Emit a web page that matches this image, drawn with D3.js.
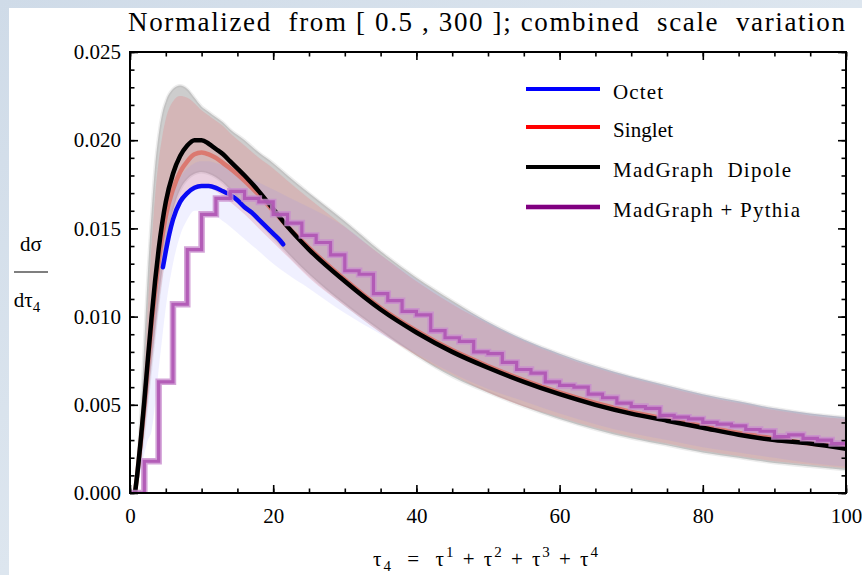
<!DOCTYPE html>
<html><head><meta charset="utf-8">
<script src="https://cdn.jsdelivr.net/npm/d3@7"></script>
<style>html,body{margin:0;padding:0;background:#d6e0ea;} svg{display:block;}</style>
</head><body><svg id="chart" width="862" height="575"></svg>
<script>
// ---------- data ----------
const gridX = [0.7,1,1.5,2,2.5,3,3.5,4,4.5,5,6,7,8,9,10,11,12,13,14,16,18,20,22,25,30,35,40,45,50,55,60,65,70,75,80,85,90,95,100];
const dipole = [0,0.0010,0.0030,0.0052,0.0076,0.0099,0.0120,0.0138,0.0153,0.0165,0.0181,0.0191,0.0197,0.0200,0.0200,0.0198,0.0195,0.0192,0.0188,0.0180,0.0171,0.0161,0.0151,0.0138,0.0120,0.0104,0.0091,0.0080,0.0071,0.0063,0.0056,0.0050,0.0045,0.0041,0.0037,0.0033,0.0030,0.0028,0.0025];
const singlet = [0,0.0010,0.0029,0.0050,0.0073,0.0095,0.0114,0.0131,0.0145,0.0157,0.0172,0.0182,0.0188,0.0192,0.0193,0.0192,0.0190,0.0187,0.0184,0.0177,0.0169,0.0160,0.0151,0.0139,0.0121,0.0105,0.0092,0.0081,0.0072,0.0064,0.0057,0.0051,0.0046,0.0042,0.0038,0.0034,0.0031,0.0028,0.0026];
const octetX = [4.6,5,5.5,6,7,8,9,10,11,12,13,14,15,16,17,18,19,20,21,21.4];
const octet = [0.0128,0.0137,0.0147,0.0155,0.0165,0.0170,0.0173,0.0174,0.0174,0.0173,0.0171,0.0169,0.0166,0.0162,0.0159,0.0155,0.0151,0.0147,0.0143,0.0141];

const dipoleHi = [0,0.0015,0.0045,0.0085,0.0125,0.0158,0.0185,0.0203,0.0215,0.0222,0.0229,0.0231,0.0229,0.0224,0.0219,0.0216,0.0213,0.0210,0.0206,0.0200,0.0193,0.0187,0.0180,0.0170,0.0154,0.0137,0.0122,0.0109,0.0097,0.0087,0.0079,0.0072,0.0066,0.0061,0.0056,0.0052,0.0048,0.0045,0.0043];
const dipoleLo = [0,0.0007,0.0020,0.0036,0.0055,0.0074,0.0092,0.0110,0.0126,0.0140,0.0160,0.0172,0.0178,0.0181,0.0182,0.0181,0.0179,0.0176,0.0172,0.0163,0.0154,0.0145,0.0136,0.0124,0.0107,0.0092,0.0078,0.0066,0.0057,0.0049,0.0042,0.0036,0.0031,0.0027,0.0023,0.0020,0.0017,0.0015,0.0013];
const singletHi = [0,0.0012,0.0035,0.0068,0.0106,0.0140,0.0168,0.0188,0.0202,0.0212,0.0222,0.0225,0.0224,0.0221,0.0217,0.0214,0.0211,0.0208,0.0204,0.0197,0.0190,0.0184,0.0177,0.0167,0.0151,0.0135,0.0120,0.0107,0.0096,0.0086,0.0078,0.0071,0.0065,0.0060,0.0055,0.0051,0.0047,0.0044,0.0042];
const singletLo = [0,0.0006,0.0018,0.0034,0.0052,0.0071,0.0089,0.0106,0.0121,0.0134,0.0152,0.0163,0.0170,0.0173,0.0174,0.0173,0.0171,0.0168,0.0165,0.0158,0.0150,0.0142,0.0134,0.0122,0.0106,0.0091,0.0078,0.0067,0.0057,0.0049,0.0043,0.0037,0.0032,0.0028,0.0024,0.0021,0.0018,0.0016,0.0014];
const octetHi = [0,0.0008,0.0025,0.0045,0.0068,0.0090,0.0110,0.0128,0.0143,0.0155,0.0170,0.0179,0.0184,0.0187,0.0188,0.0188,0.0187,0.0186,0.0184,0.0180,0.0176,0.0172,0.0168,0.0162,0.0151,0.0135,0.0121,0.0108,0.0097,0.0087,0.0079,0.0072,0.0066,0.0061,0.0056,0.0052,0.0048,0.0045,0.0043];
const octetLo = [0,0.0004,0.0012,0.0022,0.0030,0.0035,0.0050,0.0070,0.0088,0.0105,0.0130,0.0146,0.0155,0.0160,0.0160,0.0159,0.0157,0.0154,0.0151,0.0144,0.0137,0.0130,0.0124,0.0116,0.0102,0.0090,0.0079,0.0068,0.0059,0.0052,0.0045,0.0039,0.0034,0.0030,0.0026,0.0023,0.0020,0.0017,0.0015];

const histEdges = d3.range(0, 101, 2);
const pythia = [0,0.0018,0.0063,0.0107,0.0138,0.0158,0.0167,0.0171,0.0167,0.0165,0.0158,0.0153,0.0146,0.0142,0.0135,0.0126,0.0124,0.0113,0.0109,0.0103,0.0101,0.0092,0.0088,0.0086,0.0080,0.0079,0.0074,0.0070,0.0068,0.0063,0.0061,0.0060,0.0056,0.0054,0.0051,0.0049,0.0048,0.0044,0.0043,0.0042,0.0040,0.0039,0.0038,0.0036,0.0035,0.0032,0.0033,0.0031,0.0030,0.0028];

const xMajor = [0,20,40,60,80,100];
const xMinor = d3.range(0, 101, 5);
const yMajor = [0,0.005,0.010,0.015,0.020,0.025];
const yMinor = d3.range(0, 0.02501, 0.001);

const legendLabels = ["Octet","Singlet","MadGraph  Dipole","MadGraph + Pythia"];
const legendColors = ["#0000ff","#ff0000","#000000","#800080"];
const legendWidths = [50,60,178,187];

const titleText = "Normalized  from [ 0.5 , 300 ]; combined  scale  variation";

// ---------- drawing ----------
const W = 862, H = 575;
const FONT = "'Liberation Serif','Times New Roman',serif";
const svg = d3.select('#chart');
const defs = svg.append('defs');
const grad = defs.append('linearGradient').attr('id','bg').attr('x1',0).attr('y1',0).attr('x2',1).attr('y2',1);
grad.append('stop').attr('offset','0%').attr('stop-color','#cfdbe8');
grad.append('stop').attr('offset','50%').attr('stop-color','#dde6ef');
grad.append('stop').attr('offset','100%').attr('stop-color','#cad7e5');
svg.append('rect').attr('width',W).attr('height',H).attr('fill','url(#bg)');
svg.append('rect').attr('x',9).attr('y',8).attr('width',W-9).attr('height',H-8).attr('fill','#ffffff');

const x = d3.scaleLinear().domain([0,100]).range([130,846]);
const y = d3.scaleLinear().domain([0,0.025]).range([493,52]);

defs.append('clipPath').attr('id','plotclip').append('rect')
  .attr('x',130).attr('y',52).attr('width',716).attr('height',441);

const plot = svg.append('g').attr('clip-path','url(#plotclip)');

function band(lo, hi){
  return d3.area().x((d,i)=>x(gridX[i])).y0((d,i)=>y(lo[i])).y1((d,i)=>y(hi[i])).curve(d3.curveMonotoneX)(gridX);
}
plot.append('path').attr('d', band(dipoleLo, dipoleHi)).attr('fill','rgb(135,135,135)').attr('fill-opacity',0.42)
  .attr('stroke','rgb(135,135,135)').attr('stroke-opacity',0.15).attr('stroke-width',3);
plot.append('path').attr('d', band(singletLo, singletHi)).attr('fill','rgb(230,115,120)').attr('fill-opacity',0.26);
plot.append('path').attr('d', band(octetLo, octetHi)).attr('fill','rgb(130,130,255)').attr('fill-opacity',0.12);

const lineGen = (xs, ys) => d3.line().x((d,i)=>x(xs[i])).y((d,i)=>y(ys[i])).curve(d3.curveMonotoneX)(xs);

plot.append('path').attr('d', lineGen(gridX, singlet)).attr('fill','none')
  .attr('stroke','rgb(220,110,100)').attr('stroke-width',4.5).attr('stroke-opacity',0.85);
plot.append('path').attr('d', lineGen(gridX, dipole)).attr('fill','none')
  .attr('stroke','#000').attr('stroke-width',4.5);
plot.append('path').attr('d', lineGen(octetX, octet)).attr('fill','none')
  .attr('stroke','#0a0af5').attr('stroke-width',4.5).attr('stroke-linecap','round');

// histogram
const histPts = histEdges.map((e,i)=>[e, i < pythia.length ? pythia[i] : pythia[pythia.length-1]]);
const stepGen = d3.line().x(d=>x(d[0])).y(d=>y(d[1])).curve(d3.curveStepAfter);
plot.append('path').attr('d', stepGen(histPts)).attr('fill','none')
  .attr('stroke','rgb(200,140,205)').attr('stroke-width',6.5).attr('stroke-opacity',0.8);
plot.append('path').attr('d', stepGen(histPts)).attr('fill','none')
  .attr('stroke','rgb(175,85,180)').attr('stroke-width',3.2).attr('stroke-opacity',0.9);

// axes
function styleAxis(g){
  g.select('.domain').remove();
  g.selectAll('line').attr('stroke','#000').attr('stroke-width',1.6);
  g.selectAll('text').attr('font-family',FONT).attr('font-size',21).attr('fill','#000');
}
svg.append('g').attr('transform','translate(0,493)')
  .call(d3.axisBottom(x).tickValues(xMinor).tickSize(-4.5).tickFormat('')).call(styleAxis);
svg.append('g').attr('transform','translate(0,493)')
  .call(d3.axisBottom(x).tickValues(xMajor).tickSize(-8).tickPadding(15).tickFormat(d3.format('d'))).call(styleAxis);
svg.append('g').attr('transform','translate(0,52)')
  .call(d3.axisTop(x).tickValues(xMinor).tickSize(-4.5).tickFormat('')).call(styleAxis);
svg.append('g').attr('transform','translate(0,52)')
  .call(d3.axisTop(x).tickValues(xMajor).tickSize(-8).tickFormat('')).call(styleAxis);
svg.append('g').attr('transform','translate(130,0)')
  .call(d3.axisLeft(y).tickValues(yMinor).tickSize(-4.5).tickFormat('')).call(styleAxis);
svg.append('g').attr('transform','translate(130,0)')
  .call(d3.axisLeft(y).tickValues(yMajor).tickSize(-8).tickPadding(9).tickFormat(d3.format('.3f'))).call(styleAxis);
svg.append('g').attr('transform','translate(846,0)')
  .call(d3.axisRight(y).tickValues(yMinor).tickSize(-4.5).tickFormat('')).call(styleAxis);
svg.append('g').attr('transform','translate(846,0)')
  .call(d3.axisRight(y).tickValues(yMajor).tickSize(-8).tickFormat('')).call(styleAxis);

svg.append('rect').attr('x',130).attr('y',52).attr('width',716).attr('height',441)
  .attr('fill','none').attr('stroke','#000').attr('stroke-width',2);

// title
svg.append('text').attr('x',128).attr('y',31).attr('font-family',FONT).attr('font-size',27)
  .attr('textLength',717).attr('lengthAdjust','spacing').attr('xml:space','preserve').text(titleText);

// legend
const leg = svg.append('g');
const legY = [89, 127, 167, 207];
legendLabels.forEach((lab,i)=>{
  if (i===3){
    leg.append('line').attr('x1',526).attr('x2',600).attr('y1',legY[i]).attr('y2',legY[i])
      .attr('stroke','#d79ad7').attr('stroke-width',5.5);
  }
  leg.append('line').attr('x1',526).attr('x2',600).attr('y1',legY[i]).attr('y2',legY[i])
    .attr('stroke',legendColors[i]).attr('stroke-width',4);
  leg.append('text').attr('x',613).attr('y',legY[i]+10).attr('font-family',FONT).attr('font-size',21)
    .attr('textLength',legendWidths[i]).attr('lengthAdjust','spacing').attr('xml:space','preserve').text(lab);
});

// y label
const yl = svg.append('g').attr('font-family',FONT).attr('font-size',21);
yl.append('text').attr('x',31).attr('y',251).attr('text-anchor','middle').text('dσ');
yl.append('line').attr('x1',14).attr('x2',48).attr('y1',272).attr('y2',272).attr('stroke','#000').attr('stroke-width',1.2);
const yt = yl.append('text').attr('x',27).attr('y',307).attr('text-anchor','middle');
yt.append('tspan').text('dτ');
yt.append('tspan').attr('dy',5).attr('font-size',15).text('4');

// x label
const xt = svg.append('text').attr('x',373).attr('y',566).attr('font-family',FONT).attr('font-size',21)
  .attr('textLength',225).attr('lengthAdjust','spacing').attr('xml:space','preserve');
xt.append('tspan').text('τ');
xt.append('tspan').attr('dy',5).attr('font-size',15).text('4');
xt.append('tspan').attr('dy',-5).text('  =  τ');
xt.append('tspan').attr('dy',-9).attr('font-size',15).text('1');
xt.append('tspan').attr('dy',9).text(' + τ');
xt.append('tspan').attr('dy',-9).attr('font-size',15).text('2');
xt.append('tspan').attr('dy',9).text(' + τ');
xt.append('tspan').attr('dy',-9).attr('font-size',15).text('3');
xt.append('tspan').attr('dy',9).text(' + τ');
xt.append('tspan').attr('dy',-9).attr('font-size',15).text('4');
</script></body></html>
